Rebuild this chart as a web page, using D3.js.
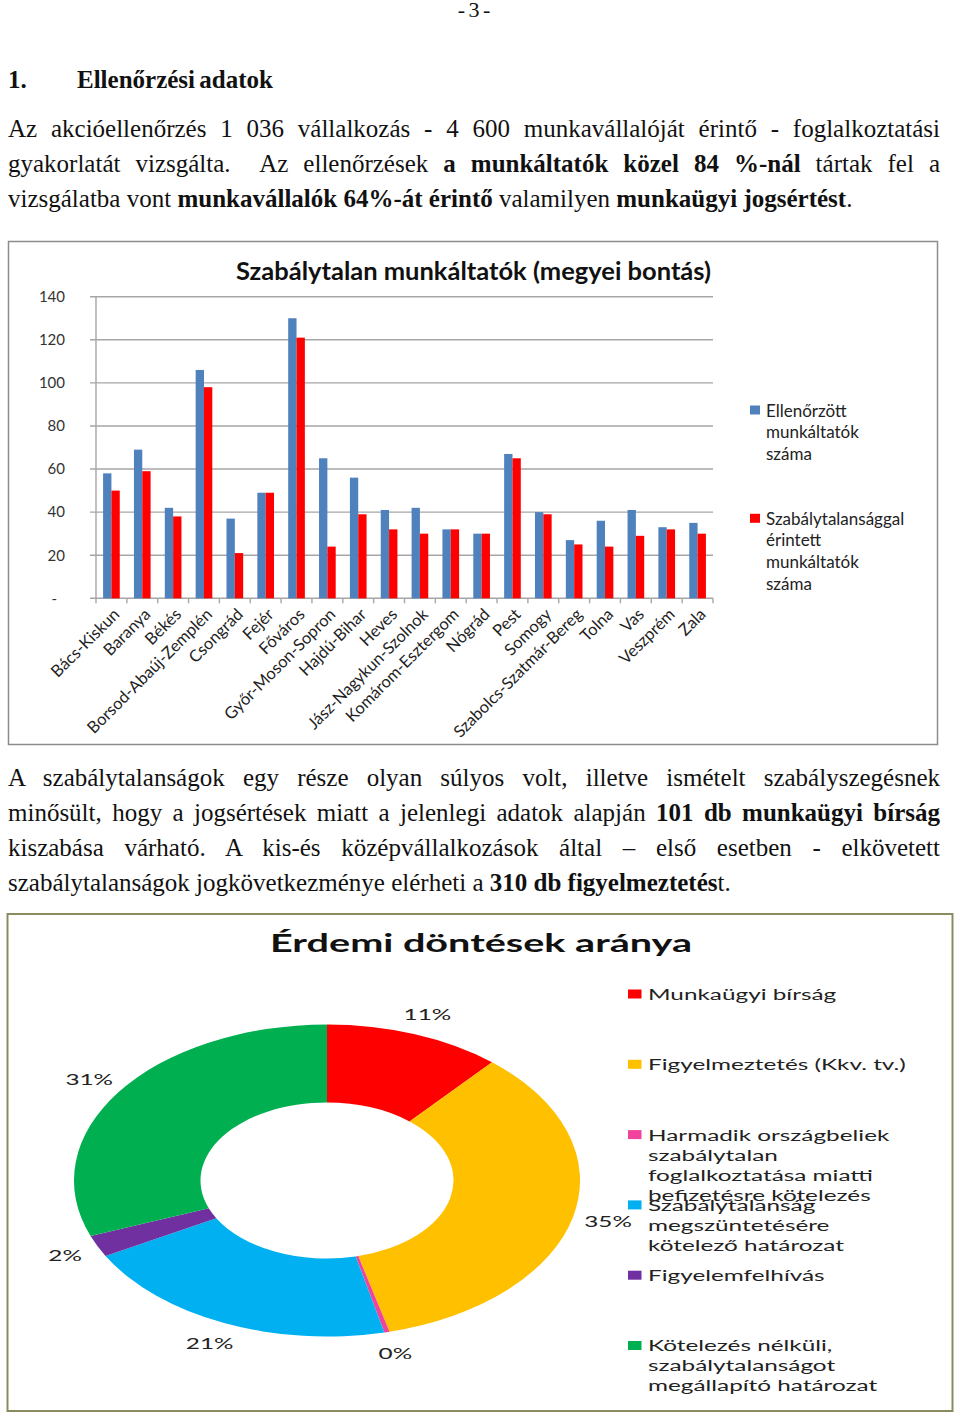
<!DOCTYPE html>
<html>
<head>
<meta charset="utf-8">
<script src="https://cdn.jsdelivr.net/npm/d3@7"></script>
<style>
  body { margin: 0; width: 960px; height: 1413px; position: relative; overflow: hidden; background: #fff; color: #111; font-family: 'Liberation Serif', serif; }
  .ln { position: absolute; left: 8px; width: 932px; font-size: 25px; line-height: 36px; white-space: nowrap; word-spacing: -2px; }
  .j { text-align: justify; text-align-last: justify; }
  .c { text-align: center; font-size: 22px; }
  b { font-weight: bold; }
  svg { position: absolute; left: 0; top: 0; }
</style>
</head>
<body>
<div class="ln c" style="top:-8px">- 3 -</div>
<div class="ln" style="top:62px"><b>1.</b><b style="position:absolute;left:69px">Ellenőrzési adatok</b></div>
<div class="ln j" style="top:111px">Az akcióellenőrzés 1 036 vállalkozás - 4 600 munkavállalóját érintő - foglalkoztatási</div>
<div class="ln j" style="top:146px">gyakorlatát vizsgálta.&nbsp; Az ellenőrzések <b>a munkáltatók közel 84 %-nál</b> tártak fel a</div>
<div class="ln" style="top:181px; word-spacing: 0">vizsgálatba vont <b>munkavállalók 64%-át érintő</b> valamilyen <b>munkaügyi jogsértést</b>.</div>
<div class="ln j" style="top:760px">A szabálytalanságok egy része olyan súlyos volt, illetve ismételt szabályszegésnek</div>
<div class="ln j" style="top:795px">minősült, hogy a jogsértések miatt a jelenlegi adatok alapján <b>101 db munkaügyi bírság</b></div>
<div class="ln j" style="top:830px">kiszabása várható. A kis-és középvállalkozások által – első esetben - elkövetett</div>
<div class="ln" style="top:865px; word-spacing: 0">szabálytalanságok jogkövetkezménye elérheti a <b>310 db figyelmeztetés</b>t.</div>
<svg id="chart" width="960" height="1413"></svg>
<script>
// Bar chart data
const counties = ['Bács-Kiskun', 'Baranya', 'Békés', 'Borsod-Abaúj-Zemplén', 'Csongrád', 'Fejér',
  'Főváros', 'Győr-Moson-Sopron', 'Hajdú-Bihar', 'Heves', 'Jász-Nagykun-Szolnok', 'Komárom-Esztergom',
  'Nógrád', 'Pest', 'Somogy', 'Szabolcs-Szatmár-Bereg', 'Tolna', 'Vas', 'Veszprém', 'Zala'];
const checked = [58, 69, 42, 106, 37, 49, 130, 65, 56, 41, 42, 32, 30, 67, 40, 27, 36, 41, 33, 35];
const irregular = [50, 59, 38, 98, 21, 49, 121, 24, 39, 32, 30, 32, 30, 65, 39, 25, 24, 29, 32, 30];
const yTicks = [0, 20, 40, 60, 80, 100, 120, 140];
const barSeries = [
  { key: 'checked', lines: ['Ellenőrzött', 'munkáltatók', 'száma'] },
  { key: 'irregular', lines: ['Szabálytalansággal', 'érintett', 'munkáltatók', 'száma'] }
];

// Donut chart data
const decisionLabels = [
  ['Munkaügyi bírság'],
  ['Figyelmeztetés (Kkv. tv.)'],
  ['Harmadik országbeliek', 'szabálytalan', 'foglalkoztatása miatti', 'befizetésre kötelezés'],
  ['Szabálytalanság', 'megszüntetésére', 'kötelező határozat'],
  ['Figyelemfelhívás'],
  ['Kötelezés nélküli,', 'szabálytalanságot', 'megállapító határozat']
];
const decisionValues = [101, 310, 3, 184, 20, 275];

const BLUE = '#4f81bd';
const RED = '#ff0000';
const DONUT_COLORS = ['#ff0000', '#ffc000', '#f0449c', '#00b0f0', '#7030a0', '#00b050'];
const FONT = 'Lato, Carlito, sans-serif';
const GRID = '#a6a6a6';
const STRETCH = 1.622;

const svg = d3.select('#chart');

// ---------- Bar chart ----------
const plotLeft = 96, plotRight = 713, plotTop = 296.7, plotBottom = 598.3;

svg.append('rect')
  .attr('x', 8.5).attr('y', 241.5).attr('width', 929).attr('height', 503)
  .attr('fill', '#fff').attr('stroke', '#8c8c8c').attr('stroke-width', 1.5);

svg.append('text')
  .attr('x', 473.5).attr('y', 270)
  .attr('text-anchor', 'middle').attr('dominant-baseline', 'central')
  .attr('font-family', FONT).attr('font-weight', 'bold').attr('font-size', 25.5)
  .attr('fill', '#111')
  .text('Szabálytalan munkáltatók (megyei bontás)');

const y = d3.scaleLinear().domain([0, 140]).range([plotBottom, plotTop]);
const xStep = d3.scaleBand().domain(counties).range([plotLeft, plotRight]);
const x = d3.scaleBand().domain(counties).range([plotLeft, plotRight])
  .paddingInner(0.46).paddingOuter(0.23);
const x1 = d3.scaleBand().domain(barSeries.map(s => s.key)).range([0, x.bandwidth()]);

// Grid lines
svg.append('g')
  .selectAll('line')
  .data(yTicks)
  .enter()
  .append('line')
  .attr('x1', plotLeft - 6).attr('x2', plotRight)
  .attr('y1', d => y(d)).attr('y2', d => y(d))
  .attr('stroke', GRID).attr('stroke-width', 1.4);

// Y axis labels
const yAxis = d3.axisLeft(y)
  .tickValues(yTicks)
  .tickSize(0)
  .tickPadding(0)
  .tickFormat(d => d === 0 ? '-' : d);

const gy = svg.append('g')
  .attr('transform', 'translate(65,0)')
  .call(yAxis);
gy.select('.domain').remove();
gy.selectAll('text')
  .attr('font-family', FONT).attr('font-size', 15).attr('fill', '#333')
  .attr('dx', d => d === 0 ? -8 : 0);

// Vertical axis line
svg.append('line')
  .attr('x1', plotLeft).attr('x2', plotLeft)
  .attr('y1', plotTop).attr('y2', plotBottom + 5)
  .attr('stroke', GRID).attr('stroke-width', 1.4);

// Category tick marks
svg.append('g')
  .selectAll('line')
  .data(counties.slice(1).map(c => xStep(c)).concat([plotRight]))
  .enter()
  .append('line')
  .attr('x1', d => d).attr('x2', d => d)
  .attr('y1', plotBottom).attr('y2', plotBottom + 5)
  .attr('stroke', GRID).attr('stroke-width', 1.4);

// Bars
const rows = counties.map((c, i) => ({ county: c, checked: checked[i], irregular: irregular[i] }));
const groups = svg.append('g')
  .selectAll('g')
  .data(rows)
  .enter()
  .append('g')
  .attr('transform', d => 'translate(' + x(d.county) + ',0)');

groups.selectAll('rect')
  .data(d => barSeries.map(s => ({ key: s.key, value: d[s.key] })))
  .enter()
  .append('rect')
  .attr('x', d => x1(d.key))
  .attr('width', x1.bandwidth())
  .attr('y', d => y(d.value))
  .attr('height', d => y(0) - y(d.value))
  .attr('fill', d => d.key === 'checked' ? BLUE : RED);

// Category labels
svg.append('g')
  .selectAll('text')
  .data(counties)
  .enter()
  .append('text')
  .attr('transform', d => 'translate(' + (xStep(d) + xStep.bandwidth() / 2 + 1) + ',' + (plotBottom + 9) + ') rotate(-45)')
  .attr('text-anchor', 'end')
  .attr('dy', '0.7em')
  .attr('font-family', FONT).attr('font-size', 16.5).attr('fill', '#222')
  .text(d => d);

// Legend
const barLegend = svg.append('g')
  .selectAll('g')
  .data(barSeries)
  .enter()
  .append('g')
  .attr('transform', (d, i) => 'translate(750,' + (410 + i * 108.3) + ')');

barLegend.append('rect')
  .attr('x', 0).attr('y', -4.5).attr('width', 10).attr('height', 9)
  .attr('fill', d => d.key === 'checked' ? BLUE : RED);

barLegend.selectAll('text')
  .data(d => d.lines)
  .enter()
  .append('text')
  .attr('x', 16)
  .attr('y', (d, i) => i * 21.7)
  .attr('dominant-baseline', 'central')
  .attr('font-family', FONT).attr('font-size', 17).attr('fill', '#222')
  .text(d => d);

// ---------- Donut chart ----------
const cx = 327, cy = 1180.5, outerR = 156, innerR = 78, labelR = 178;

svg.append('rect')
  .attr('x', 7.5).attr('y', 914).attr('width', 945).attr('height', 497)
  .attr('fill', '#fff').attr('stroke', '#8b8b62').attr('stroke-width', 2);

svg.append('text')
  .attr('transform', 'translate(481,943) scale(' + STRETCH + ',1)')
  .attr('text-anchor', 'middle').attr('dominant-baseline', 'central')
  .attr('font-family', FONT).attr('font-weight', 'bold').attr('font-size', 24.4)
  .attr('fill', '#111')
  .text('Érdemi döntések aránya');

const pie = d3.pie().value(d => d).sort(null);
const arcs = pie(decisionValues);
const total = d3.sum(decisionValues);

const arc = d3.arc().innerRadius(innerR).outerRadius(outerR);

svg.append('g')
  .attr('transform', 'translate(' + cx + ',' + cy + ') scale(' + STRETCH + ',1)')
  .selectAll('path')
  .data(arcs)
  .enter()
  .append('path')
  .attr('d', arc)
  .attr('fill', (d, i) => DONUT_COLORS[i]);

// Percent labels outside the ring
svg.append('g')
  .selectAll('text')
  .data(arcs)
  .enter()
  .append('text')
  .attr('transform', d => {
    const a = (d.startAngle + d.endAngle) / 2;
    const lx = cx + STRETCH * labelR * Math.sin(a);
    const ly = cy - labelR * Math.cos(a);
    return 'translate(' + lx + ',' + ly + ') scale(' + STRETCH + ',1)';
  })
  .attr('text-anchor', 'middle').attr('dominant-baseline', 'central')
  .attr('font-family', FONT).attr('font-size', 15).attr('fill', '#222')
  .text(d => Math.round(d.value * 100 / total) + '%');

// Donut legend
const donutLegend = svg.append('g')
  .selectAll('g')
  .data(decisionLabels)
  .enter()
  .append('g')
  .attr('transform', (d, i) => 'translate(628,' + (994 + i * 70.3) + ')');

donutLegend.append('rect')
  .attr('x', 0).attr('y', -4.5).attr('width', 13.5).attr('height', 9)
  .attr('fill', (d, i) => DONUT_COLORS[i]);

donutLegend.selectAll('text')
  .data(d => d)
  .enter()
  .append('text')
  .attr('transform', (d, i) => 'translate(20,' + (i * 20) + ') scale(' + STRETCH + ',1)')
  .attr('dominant-baseline', 'central')
  .attr('font-family', FONT).attr('font-size', 15).attr('fill', '#222')
  .text(d => d);
</script>
</body>
</html>
